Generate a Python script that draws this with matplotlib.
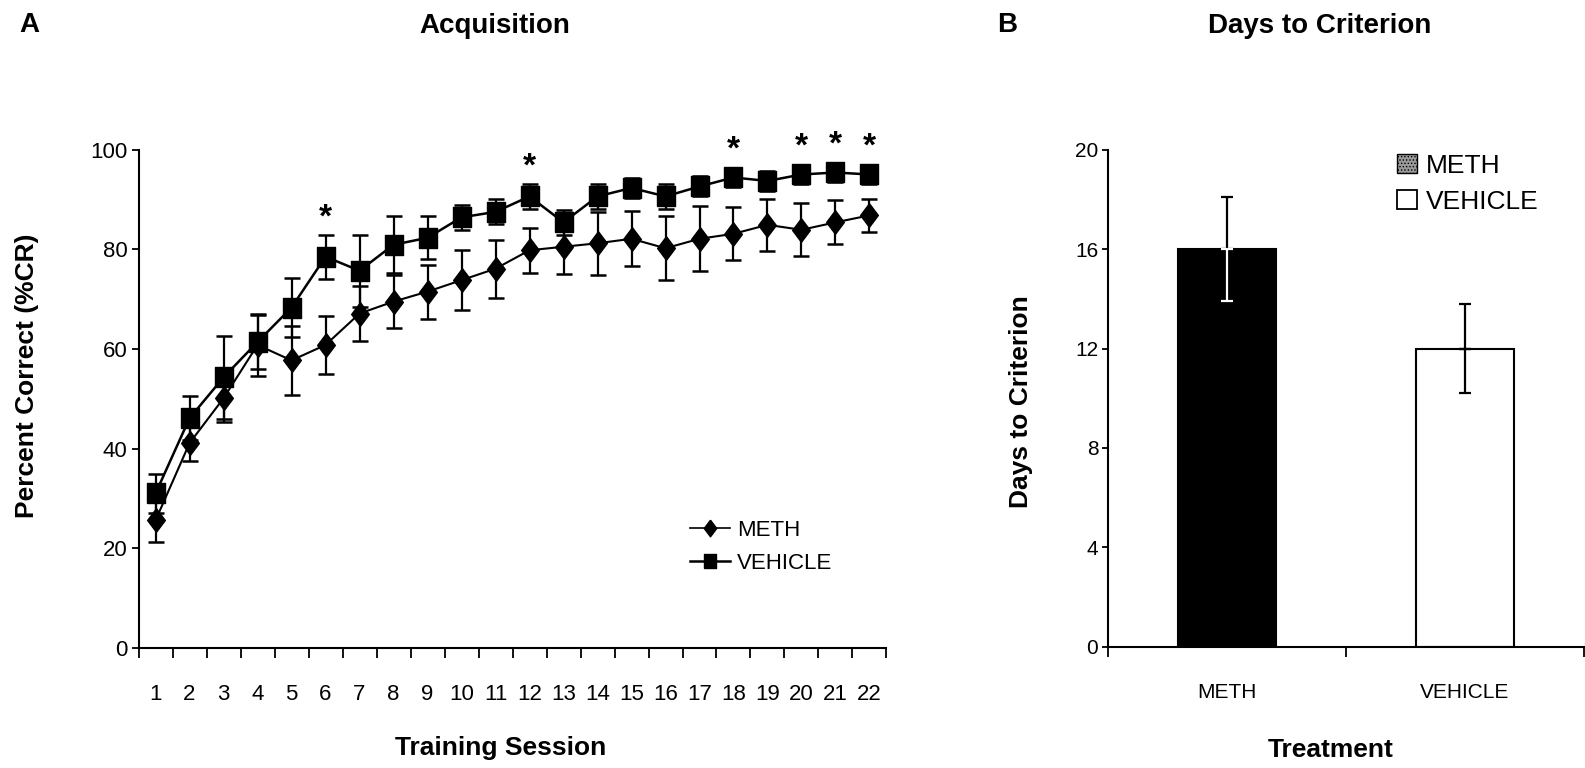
import matplotlib
matplotlib.use("Agg")
from matplotlib import pyplot as plt
from matplotlib.lines import Line2D
from matplotlib.patches import Patch
from matplotlib.ticker import FixedLocator, NullFormatter

plt.rcParams['font.family'] = ['Liberation Sans', 'DejaVu Sans']
plt.rcParams['hatch.linewidth'] = 0.6

# --- data ---
sessions = [1, 2, 3, 4, 5, 6, 7, 8, 9, 10, 11, 12, 13, 14, 15, 16, 17, 18, 19, 20, 21, 22]
meth_mean = [25.6, 41.1, 50.1, 60.8, 57.7, 60.8, 67.1, 69.5, 71.5, 73.8, 76.1,
             79.8, 80.5, 81.2, 82.1, 80.2, 82.1, 83.1, 84.9, 83.9, 85.4, 86.8]
meth_sem = [4.3, 3.6, 4.7, 6.2, 6.9, 5.8, 5.5, 5.3, 5.4, 6.0, 5.8,
            4.5, 5.5, 6.3, 5.5, 6.4, 6.5, 5.3, 5.2, 5.3, 4.4, 3.3]
veh_mean = [31.0, 46.1, 54.3, 61.4, 68.3, 78.5, 75.7, 80.9, 82.3, 86.4, 87.5,
            90.6, 85.4, 90.6, 92.3, 90.6, 92.6, 94.4, 93.7, 95.0, 95.4, 95.0]
veh_sem = [4.0, 4.4, 8.3, 5.5, 5.9, 4.4, 7.2, 5.7, 4.3, 2.5, 2.5,
           2.5, 2.5, 2.5, 2.0, 2.5, 2.0, 2.0, 2.0, 2.0, 2.0, 2.0]
sig_sessions = [6, 12, 18, 20, 21, 22]

treatments = ['METH', 'VEHICLE']
days = [16.0, 12.0]
days_sem = [2.1, 1.8]
bar_colors = ['black', 'white']

narrow = ['Liberation Sans Narrow', 'Liberation Sans', 'DejaVu Sans']

# marker shapes (slightly tall diamond and box like the original)
diamond = [(0, 1), (0.75, 0), (0, -1), (-0.75, 0), (0, 1)]
box = [(-0.85, -1), (0.85, -1), (0.85, 1), (-0.85, 1), (-0.85, -1)]

fig = plt.figure(figsize=(15.85, 7.68), dpi=100)

# ---------------- panel A ----------------
ax = fig.add_axes([0.0874, 0.15625, 0.4719, 0.649])
ax.errorbar(sessions, meth_mean, yerr=meth_sem, color='black', marker=diamond, ms=17,
            lw=1.5, elinewidth=1.6, capsize=6, capthick=1.8, zorder=3)
ax.errorbar(sessions, veh_mean, yerr=veh_sem, color='black', marker=box, ms=15,
            lw=1.8, elinewidth=1.6, capsize=6, capthick=1.8, zorder=4)

for s in sig_sessions:
    i = sessions.index(s)
    ax.text(s, veh_mean[i] + veh_sem[i] + 1.7, '*', ha='center', va='baseline',
            fontsize=24, fontweight='bold', clip_on=False)

ax.set_xlim(0.5, 22.5)
ax.set_ylim(0, 100)
ax.spines['top'].set_visible(False)
ax.spines['right'].set_visible(False)
ax.spines['left'].set_linewidth(1.5)
ax.spines['bottom'].set_linewidth(1.5)
ax.xaxis.set_major_locator(FixedLocator([s - 0.5 for s in sessions] + [22.5]))
ax.xaxis.set_major_formatter(NullFormatter())
ax.xaxis.set_minor_locator(FixedLocator(sessions))
ax.set_xticklabels([str(s) for s in sessions], minor=True)
ax.tick_params(axis='x', which='major', direction='out', length=7, width=1.3)
ax.tick_params(axis='x', which='minor', length=0, pad=26)
ax.set_yticks([0, 20, 40, 60, 80, 100])
ax.tick_params(axis='y', direction='out', length=5, width=1.3, pad=3)
for lab in ax.get_xticklabels(minor=True) + ax.get_yticklabels():
    lab.set_family(narrow)
    lab.set_fontsize(16)

line_handles = [Line2D([], [], color='black', lw=1.2, marker=diamond, ms=12, label='METH'),
                Line2D([], [], color='black', lw=1.8, marker=box, ms=10, label='VEHICLE')]
ax.legend(handles=line_handles, loc='upper left', bbox_to_anchor=(690 / 1585, 1 - 520 / 768),
          bbox_transform=fig.transFigure, frameon=False, fontsize=16,
          handlelength=1.8, handletextpad=0.3, labelspacing=0.55,
          borderpad=0, borderaxespad=0)

# ---------------- panel B ----------------
bx = fig.add_axes([0.6991, 0.1576, 0.3003, 0.6477])
xpos = list(range(len(treatments)))
bx.bar(xpos, days, width=0.41, color=bar_colors, edgecolor='black', linewidth=1.5, zorder=2)
for x, d, e, c in zip(xpos, days, days_sem, bar_colors):
    bx.errorbar(x, d, yerr=[[0], [e]], color='black', elinewidth=1.6, capsize=4,
                capthick=1.6, zorder=3)
    low = 'white' if c == 'black' else 'black'
    bx.errorbar(x, d, yerr=[[e], [0]], color=low, elinewidth=1.6, capsize=4,
                capthick=1.6, zorder=3)

bx.set_xlim(-0.5, 1.5)
bx.set_ylim(0, 20)
bx.spines['top'].set_visible(False)
bx.spines['right'].set_visible(False)
bx.spines['left'].set_linewidth(1.5)
bx.spines['bottom'].set_linewidth(1.5)
bx.xaxis.set_major_locator(FixedLocator([-0.5, 0.5, 1.5]))
bx.xaxis.set_major_formatter(NullFormatter())
bx.xaxis.set_minor_locator(FixedLocator(xpos))
bx.set_xticklabels(treatments, minor=True)
bx.tick_params(axis='x', which='major', direction='out', length=7, width=1.3)
bx.tick_params(axis='x', which='minor', length=0, pad=26)
bx.set_yticks([0, 4, 8, 12, 16, 20])
bx.tick_params(axis='y', direction='out', length=4, width=1.3, pad=3)
for lab in bx.get_xticklabels(minor=True) + bx.get_yticklabels():
    lab.set_family(narrow)
    lab.set_fontsize(15)

patch_handles = [Patch(facecolor='#9a9a9a', edgecolor='black', hatch='.....', label=treatments[0]),
                 Patch(facecolor='white', edgecolor='black', lw=1.3, label=treatments[1])]
bx.legend(handles=patch_handles, loc='upper left', bbox_to_anchor=(1397 / 1585, 1 - 154 / 768),
          bbox_transform=fig.transFigure, frameon=False, fontsize=19,
          handlelength=0.75, handleheight=0.75, handletextpad=0.35, labelspacing=0.45,
          borderpad=0, borderaxespad=0)

# ---------------- labels ----------------
fig.text(29 / 1585, 1 - 25 / 768, 'A', fontsize=20, fontweight='bold', ha='center', va='center')
fig.text(1007 / 1585, 1 - 25 / 768, 'B', fontsize=20, fontweight='bold', ha='center', va='center')
fig.text(495 / 1585, 1 - 26 / 768, 'Acquisition', fontsize=20, fontweight='bold',
         ha='center', va='center')
fig.text(1320 / 1585, 1 - 26 / 768, 'Days to Criterion', fontsize=20, fontweight='bold',
         ha='center', va='center')
fig.text(501 / 1585, 1 - 748 / 768, 'Training Session', fontsize=19, fontweight='bold',
         ha='center', va='center')
fig.text(1331 / 1585, 1 - 750 / 768, 'Treatment', fontsize=19, fontweight='bold',
         ha='center', va='center')
fig.text(27 / 1585, 1 - 376 / 768, 'Percent Correct (%CR)', fontsize=19, fontweight='bold',
         rotation=90, ha='center', va='center')
fig.text(1021 / 1585, 1 - 402 / 768, 'Days to Criterion', fontsize=19, fontweight='bold',
         rotation=90, ha='center', va='center')

fig.savefig('out.png', dpi=100)
